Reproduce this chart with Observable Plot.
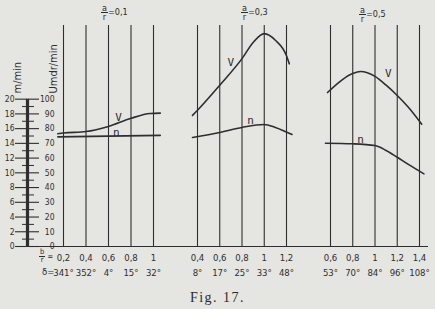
<!DOCTYPE html>
<html><head><meta charset="utf-8">
<script src="https://cdn.jsdelivr.net/npm/d3@7"></script>
<script src="https://cdn.jsdelivr.net/npm/@observablehq/plot@0.6"></script>
<style>
html,body{margin:0;padding:0;background:#e5e5e2;}
#chart{position:relative;width:435px;height:309px;overflow:hidden;font-family:"DejaVu Sans Condensed","DejaVu Sans",sans-serif;color:#2b2b2b;}
#chart svg{position:absolute;left:0;top:0;overflow:visible;background:transparent;}
.lbl{position:absolute;font-size:9px;line-height:1;white-space:nowrap;display:flex;align-items:center;}
.frac{display:inline-flex;flex-direction:column;align-items:center;line-height:0.9;}
.frac span:first-child{border-bottom:1px solid #2b2b2b;padding:0 1px 0 1px;}
.cap{position:absolute;left:0;width:435px;text-align:center;top:290px;font-family:"Liberation Serif",serif;font-size:14px;letter-spacing:1.5px;color:#2b2b2b;}
</style></head><body><div id="chart"></div>
<script>
// ---------- data ----------
const panelTitles = ["0,1", "0,3", "0,5"];

const p1Ticks = [0.2, 0.4, 0.6, 0.8, 1.0];
const p1Delta = ["341°", "352°", "4°", "15°", "32°"];
const p1Vx = [0.15, 0.2, 0.4, 0.6, 0.8, 0.97, 1.06];
const p1Vy = [15.3, 15.4, 15.6, 16.3, 17.4, 18.05, 18.1];      // m/min
const p1Nx = [0.15, 0.6, 1.06];
const p1Ny = [74.4, 74.9, 75.4];                                 // Umdr/min

const p2Ticks = [0.4, 0.6, 0.8, 1.0, 1.2];
const p2Delta = ["8°", "17°", "25°", "33°", "48°"];
const p2Vx = [0.355, 0.4, 0.6, 0.8, 0.9, 1.0, 1.1, 1.2, 1.225];
const p2Vy = [17.8, 18.5, 21.9, 25.5, 27.7, 28.9, 28.0, 25.9, 24.8];
const p2Nx = [0.355, 0.6, 0.8, 1.0, 1.1, 1.25];
const p2Ny = [74.0, 77.4, 80.8, 82.8, 80.8, 76.0];

const p3Ticks = [0.6, 0.8, 1.0, 1.2, 1.4];
const p3Delta = ["53°", "70°", "84°", "96°", "108°"];
const p3Vx = [0.573, 0.8, 0.87, 1.0, 1.1, 1.2, 1.3, 1.42];
const p3Vy = [20.9, 23.5, 23.75, 23.1, 21.9, 20.5, 18.9, 16.6];
const p3Nx = [0.555, 0.8, 1.0, 1.1, 1.2, 1.3, 1.44];
const p3Ny = [70.1, 69.7, 68.5, 65.2, 60.6, 55.7, 49.3];

// label anchors: [D/r, m/min]
const p1Labels = [{x: 0.69, y: 17.5, t: "V"}, {x: 0.67, y: 15.5, t: "n"}];
const p2Labels = [{x: 0.70, y: 25.0, t: "V"}, {x: 0.876, y: 17.1, t: "n"}];
const p3Labels = [{x: 1.12, y: 23.5, t: "V"}, {x: 0.87, y: 14.5, t: "n"}];

const leftMajor = [0, 2, 4, 6, 8, 10, 12, 14, 16, 18, 20];
const leftMinor = [1, 3, 5, 7, 9, 11, 13, 15, 17, 19];
// ---------------------------

const W = 435, H = 309, MT = 25, MB = 63;
const INK = "#2e2e2e";
const chart = document.getElementById("chart");
const common = {height: H, marginTop: MT, marginBottom: MB, y: {domain: [0, 30], axis: null},
  style: {background: "transparent", color: INK, fontFamily: "'DejaVu Sans Condensed',sans-serif", fontSize: "9.5px", overflow: "visible"}};

// baseline
chart.append(Plot.plot({...common, width: W, marginLeft: 27, marginRight: 7,
  marks: [Plot.ruleY([0], {stroke: INK, strokeWidth: 1.1})]}));

// left axis
const leftStyle = {...common.style, fontSize: "8.5px"};
chart.append(Plot.plot({...common, style: leftStyle, width: 60, marginLeft: 27, marginRight: 33,
  x: {domain: [0, 1], axis: null},
  marks: [
    Plot.ruleX([0], {y1: 0, y2: 20, stroke: INK, strokeWidth: 3.2}),
    Plot.axisY({anchor: "left", ticks: leftMajor, tickSize: 12, tickPadding: 1, tickFormat: d => d, strokeWidth: 1.1, label: null}),
    Plot.axisY({anchor: "right", ticks: leftMajor, tickSize: 11, tickPadding: 16, textAnchor: "end", tickFormat: d => d * 5, strokeWidth: 1.1, label: null}),
    Plot.axisY({anchor: "left", ticks: leftMinor, tickSize: 5, tickFormat: () => "", strokeWidth: 1, label: null}),
    Plot.axisY({anchor: "right", ticks: leftMinor, tickSize: 6, tickFormat: () => "", strokeWidth: 1, label: null}),
    Plot.text(["m/min"], {frameAnchor: "top-left", dx: -14, dy: 68, rotate: -90, textAnchor: "start", fontSize: 11}),
    Plot.text(["Umdr/min"], {frameAnchor: "top-left", dx: 22, dy: 68, rotate: -90, textAnchor: "start", fontSize: 11})
  ]}));

function fmt(d) { return String(d).replace(".", ","); }

function panel(ticks, delta, vx, vy, nx, ny, labels, left, right, extra) {
  const V = vx.map((x, i) => ({x, y: vy[i]}));
  const N = nx.map((x, i) => ({x, n: ny[i]}));
  const marks = [
    Plot.ruleX(ticks, {stroke: INK, strokeWidth: 1.1}),
    Plot.line(V, {x: "x", y: "y", curve: "monotone-x", stroke: INK, strokeWidth: 1.6}),
    Plot.line(N, {x: "x", y: d => d.n / 5, curve: "monotone-x", stroke: INK, strokeWidth: 1.6}),
    Plot.text(labels, {x: "x", y: "y", text: "t", fontSize: 11, fontFamily: "'DejaVu Sans Mono',monospace", fill: INK}),
    Plot.axisX({ticks, tickSize: 0, tickPadding: 8, tickFormat: fmt, label: null}),
    Plot.axisX({ticks, tickSize: 0, tickPadding: 23, tickFormat: d => delta[ticks.indexOf(d)], label: null})
  ];
  if (extra) marks.push(...extra);
  return Plot.plot({...common, width: W, marginLeft: left, marginRight: W - right,
    x: {domain: [ticks[0], ticks[ticks.length - 1]], axis: null, label: null}, marks});
}

chart.append(panel(p1Ticks, p1Delta, p1Vx, p1Vy, p1Nx, p1Ny, p1Labels, 63, 153, [
  Plot.text(["δ="], {x: [p1Ticks[0]], frameAnchor: "bottom", dy: 28, dx: -9, textAnchor: "end"})
]));
chart.append(panel(p2Ticks, p2Delta, p2Vx, p2Vy, p2Nx, p2Ny, p2Labels, 197, 286));
chart.append(panel(p3Ticks, p3Delta, p3Vx, p3Vy, p3Nx, p3Ny, p3Labels, 330, 419));

// titles a/r = ...
const titlePos = [[101, 4], [241, 4], [359, 6]];
panelTitles.forEach((t, i) => {
  const d = document.createElement("div");
  d.className = "lbl";
  d.style.left = titlePos[i][0] + "px"; d.style.top = titlePos[i][1] + "px";
  d.innerHTML = `<span class="frac"><span>a</span><span>r</span></span><span>=${t}</span>`;
  chart.append(d);
});
// b/r = label
const b = document.createElement("div");
b.className = "lbl";
b.style.left = "39px"; b.style.top = "249px"; b.style.fontSize = "7.5px";
b.innerHTML = `<span class="frac"><span>b</span><span>r</span></span><span>&nbsp;=</span>`;
chart.append(b);
// caption
const cap = document.createElement("div");
cap.className = "cap"; cap.textContent = "Fig. 17.";
chart.append(cap);
</script></body></html>
